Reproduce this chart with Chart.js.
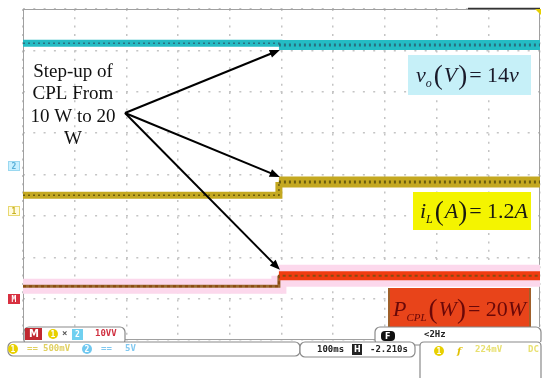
<!DOCTYPE html>
<html>
<head>
<meta charset="utf-8">
<script src="https://cdn.jsdelivr.net/npm/chart.js@4.4.1/dist/chart.umd.min.js"></script>
<style>
  html, body { margin: 0; padding: 0; background: #fff; }
  canvas { display: block; }
</style>
</head>
<body>
<canvas id="scope" width="550" height="378"></canvas>
<script>
// time in ms (100 ms/div, 10 div), levels in screen divisions (0..8)
const times = [0, 495, 1000];
const voLevels = [7.17, 7.13, 7.13];
const iLLevels = [3.50, 3.82, 3.82];
const pCplLevels = [1.30, 1.55, 1.55];
const xTicks = [0, 100, 200, 300, 400, 500, 600, 700, 800, 900, 1000];

const pts = (levels) => times.map((t, i) => ({ x: t, y: levels[i] }));
const leftRight = (a, b) => (ctx) => (ctx.p0DataIndex === 0 ? a : b);

// annotations + scope decorations
const scopeDecor = {
  id: "scopeDecor",
  beforeDatasetsDraw(chart) {
    const { ctx, chartArea: ca } = chart;
    ctx.save();
    ctx.strokeStyle = "#a0a0a0";
    ctx.lineWidth = 1;
    ctx.strokeRect(ca.left + 0.5, ca.top + 0.5, ca.width - 1, ca.height - 1);
    ctx.restore();
  },
  afterDraw(chart) {
    const { ctx, chartArea: ca } = chart;
    const xs = chart.scales.x;
    const ys = chart.scales.y;
    const px = (v) => xs.getPixelForValue(v);
    const py = (v) => ys.getPixelForValue(v);
    ctx.save();

    // top right trigger bar
    ctx.strokeStyle = "#333";
    ctx.lineWidth = 1.5;
    ctx.beginPath();
    ctx.moveTo(468, ca.top - 0.5);
    ctx.lineTo(ca.right, ca.top - 0.5);
    ctx.stroke();
    ctx.fillStyle = "#e6d000";
    ctx.beginPath();
    ctx.moveTo(535, ca.top);
    ctx.lineTo(541, ca.top);
    ctx.lineTo(541, ca.top + 6);
    ctx.fill();

    // left channel markers
    const marker = (y, label, fill, stroke, color) => {
      ctx.fillStyle = fill;
      ctx.strokeStyle = stroke;
      ctx.lineWidth = 1;
      ctx.fillRect(8, y - 5, 12, 10);
      ctx.strokeRect(8.5, y - 4.5, 11, 9);
      ctx.fillStyle = color;
      ctx.font = "bold 8px 'DejaVu Sans Mono'";
      ctx.textAlign = "center";
      ctx.textBaseline = "middle";
      ctx.fillText(label, 14, y + 0.5);
    };
    marker(166, "2", "#c8f0ff", "#9ad8f0", "#5ab0d8");
    marker(211, "1", "#fffbe0", "#e8d870", "#c8b020");
    marker(299, "M", "#d83040", "#d83040", "#fff");

    // step-up text
    ctx.fillStyle = "#111";
    ctx.font = "19px 'Liberation Serif'";
    ctx.textAlign = "center";
    ctx.textBaseline = "middle";
    ["Step-up of", "CPL From", "10 W to 20", "W"].forEach((s, i) => {
      ctx.fillText(s, 73, 72 + i * 22.5);
    });

    // arrows
    const ox = 125, oy = 113;
    const arrow = (tx, ty) => {
      const a = Math.atan2(ty - oy, tx - ox);
      ctx.strokeStyle = "#000";
      ctx.lineWidth = 2;
      ctx.beginPath();
      ctx.moveTo(ox, oy);
      ctx.lineTo(tx - 6 * Math.cos(a), ty - 6 * Math.sin(a));
      ctx.stroke();
      ctx.fillStyle = "#000";
      ctx.beginPath();
      ctx.moveTo(tx, ty);
      ctx.lineTo(tx - 11 * Math.cos(a - 0.38), ty - 11 * Math.sin(a - 0.38));
      ctx.lineTo(tx - 11 * Math.cos(a + 0.38), ty - 11 * Math.sin(a + 0.38));
      ctx.closePath();
      ctx.fill();
    };
    const sx = px(times[1]) + 1;
    arrow(sx, py(voLevels[1]) + 5);
    arrow(sx, py(iLLevels[1]) - 5);
    arrow(sx, py(pCplLevels[1]) - 6);

    // math label boxes
    const runs = (x, y, parts, color) => {
      ctx.textAlign = "left";
      ctx.textBaseline = "alphabetic";
      ctx.fillStyle = color;
      parts.forEach((p) => {
        ctx.font = p.f;
        ctx.fillText(p.t, x, y + (p.dy || 0));
        x += ctx.measureText(p.t).width + (p.gap || 0);
      });
    };
    const ital = "italic 22px 'Liberation Serif'";
    const rom = "22px 'Liberation Serif'";
    const paren = "27px 'Liberation Serif'";
    const sub = "italic 12px 'Liberation Serif'";

    ctx.fillStyle = "#c6f0f8";
    ctx.fillRect(408, 55, 123, 40);
    runs(416, 82, [
      { t: "v", f: ital },
      { t: "o", f: sub, dy: 5, gap: 2 },
      { t: "(", f: paren, dy: 2, gap: 1 },
      { t: "V", f: ital, gap: 1 },
      { t: ")", f: paren, dy: 2, gap: 2 },
      { t: "= 14", f: rom },
      { t: "v", f: ital },
    ], "#1a1a2a");

    ctx.fillStyle = "#f4f400";
    ctx.fillRect(413, 192, 118, 38);
    runs(420, 218, [
      { t: "i", f: ital },
      { t: "L", f: sub, dy: 5, gap: 2 },
      { t: "(", f: paren, dy: 2, gap: 1 },
      { t: "A", f: ital },
      { t: ")", f: paren, dy: 2, gap: 2 },
      { t: "= 1.2", f: rom },
      { t: "A", f: ital },
    ], "#1a1a10");

    ctx.fillStyle = "#e8441a";
    ctx.fillRect(388, 288, 143, 40);
    ctx.fillStyle = "#a0602a";
    ctx.fillRect(388, 288, 2, 40);
    ctx.fillRect(529, 288, 2, 40);
    runs(393, 316, [
      { t: "P", f: ital },
      { t: "CPL", f: "italic 11px 'Liberation Serif'", dy: 5, gap: 2 },
      { t: "(", f: paren, dy: 2, gap: 1 },
      { t: "W", f: ital },
      { t: ")", f: paren, dy: 2, gap: 2 },
      { t: "= 20", f: rom },
      { t: "W", f: ital },
    ], "#6a0808");

    // status bars
    const rbox = (x, y, w, h, openBottom) => {
      ctx.fillStyle = "#fff";
      ctx.fillRect(x, y, w, h);
      ctx.strokeStyle = "#8a8a8a";
      ctx.lineWidth = 1.2;
      ctx.beginPath();
      if (openBottom) {
        ctx.moveTo(x, y + h);
        ctx.lineTo(x, y + 4);
        ctx.quadraticCurveTo(x, y, x + 4, y);
        ctx.lineTo(x + w - 4, y);
        ctx.quadraticCurveTo(x + w, y, x + w, y + 4);
        ctx.lineTo(x + w, y + h);
      } else {
        ctx.roundRect(x, y, w, h, 5);
      }
      ctx.stroke();
    };
    const txt = (s, x, y, color, font) => {
      ctx.fillStyle = color;
      ctx.font = font || "bold 9px 'DejaVu Sans Mono'";
      ctx.textAlign = "left";
      ctx.textBaseline = "middle";
      ctx.fillText(s, x, y);
    };
    const circ = (x, y, fill, label) => {
      ctx.fillStyle = fill;
      ctx.beginPath();
      ctx.arc(x, y, 5, 0, Math.PI * 2);
      ctx.fill();
      txt(label, x - 2.5, y + 0.5, "#fff", "bold 8px 'DejaVu Sans Mono'");
    };

    rbox(24, 327, 101, 18);
    ctx.fillStyle = "#c02830";
    ctx.fillRect(25, 328, 17, 12);
    txt("M", 29, 334.5, "#fff", "bold 10px 'DejaVu Sans'");
    circ(53, 334, "#e8d000", "1");
    txt("\u00d7", 62, 334, "#555");
    ctx.fillStyle = "#70d0f0";
    ctx.fillRect(72, 329, 11, 11);
    txt("2", 75, 334.5, "#fff", "bold 8px 'DejaVu Sans Mono'");
    txt("10VV", 95, 334, "#d03040");

    rbox(375, 327, 166, 18);
    ctx.fillStyle = "#111";
    ctx.beginPath();
    ctx.roundRect(381, 331, 14, 10, 4);
    ctx.fill();
    txt("F", 385, 336.5, "#fff", "bold 8px 'DejaVu Sans'");
    txt("<2Hz", 424, 335, "#222");

    rbox(8, 342, 292, 14);
    circ(13, 349, "#e8d000", "1");
    txt("==", 27, 349, "#e0d060");
    txt("500mV", 43, 349, "#e0d060");
    ctx.fillStyle = "#70c8f0";
    ctx.beginPath();
    ctx.arc(87, 349, 5, 0, Math.PI * 2);
    ctx.fill();
    txt("2", 84.5, 349.5, "#fff", "bold 8px 'DejaVu Sans Mono'");
    txt("==", 101, 349, "#80c8f0");
    txt("5V", 125, 349, "#80c8f0");

    rbox(300, 342, 115, 15);
    txt("100ms", 317, 349.5, "#222");
    ctx.fillStyle = "#222";
    ctx.fillRect(352, 344, 10, 11);
    txt("H", 354, 350, "#fff", "bold 8px 'DejaVu Sans'");
    txt("-2.210s", 370, 349.5, "#222");

    rbox(420, 342, 121, 40, true);
    circ(439, 351, "#e8d000", "1");
    txt("f", 457, 351, "#e0c000", "italic bold 10px 'DejaVu Serif'");
    txt("224mV", 475, 350, "#e8e070");
    txt("DC", 528, 350, "#e8e070");

    ctx.restore();
  },
};

new Chart(document.getElementById("scope"), {
  type: "line",
  data: {
    datasets: [
      {
        label: "vo texture",
        data: pts(voLevels),
        stepped: true,
        borderColor: "#2a7080",
        borderDash: [2, 3],
        segment: { borderWidth: leftRight(1.5, 3) },
        pointRadius: 0,
        order: 1,
      },
      {
        label: "vo",
        data: pts(voLevels),
        stepped: true,
        borderColor: "#24bcc4",
        segment: { borderWidth: leftRight(7, 10) },
        pointRadius: 0,
        order: 2,
      },
      {
        label: "iL texture",
        data: pts(iLLevels),
        stepped: true,
        borderColor: "#6a5c10",
        borderDash: [2, 3],
        segment: { borderWidth: leftRight(1.5, 3) },
        pointRadius: 0,
        order: 1,
      },
      {
        label: "iL",
        data: pts(iLLevels),
        stepped: true,
        borderColor: "#c4a820",
        segment: { borderWidth: leftRight(7, 11) },
        pointRadius: 0,
        order: 2,
      },
      {
        label: "P texture",
        data: pts(pCplLevels),
        stepped: true,
        borderColor: "#8a4a10",
        borderDash: [3, 3],
        segment: { borderWidth: leftRight(2, 2) },
        pointRadius: 0,
        order: 1,
      },
      {
        label: "PCPL",
        data: pts(pCplLevels),
        stepped: true,
        borderColor: "#b07030",
        segment: {
          borderWidth: leftRight(3, 9),
          borderColor: leftRight("#9a6a30", "#f03c10"),
        },
        pointRadius: 0,
        order: 2,
      },
      {
        label: "PCPL band",
        data: pts(pCplLevels),
        stepped: true,
        borderColor: "#fcd8ec",
        segment: { borderWidth: leftRight(15, 22) },
        pointRadius: 0,
        order: 3,
      },
    ],
  },
  options: {
    responsive: false,
    animation: false,
    events: [],
    layout: { padding: { left: 23, top: 9, right: 10, bottom: 38 } },
    plugins: { legend: { display: false }, tooltip: { enabled: false } },
    scales: {
      x: {
        type: "linear",
        min: 0,
        max: 1000,
        afterBuildTicks: (s) => { s.ticks = xTicks.map((v) => ({ value: v })); },
        ticks: { display: false },
        border: { display: false, dash: [2, 6.3] },
        grid: { color: "#c4c4c4", drawTicks: false, lineWidth: 1.5 },
      },
      y: {
        type: "linear",
        min: 0,
        max: 8,
        ticks: { display: false, stepSize: 1 },
        border: { display: false, dash: [2, 8.3] },
        grid: { color: "#c4c4c4", drawTicks: false, lineWidth: 1.5 },
      },
    },
  },
  plugins: [scopeDecor],
});
</script>
</body>
</html>
